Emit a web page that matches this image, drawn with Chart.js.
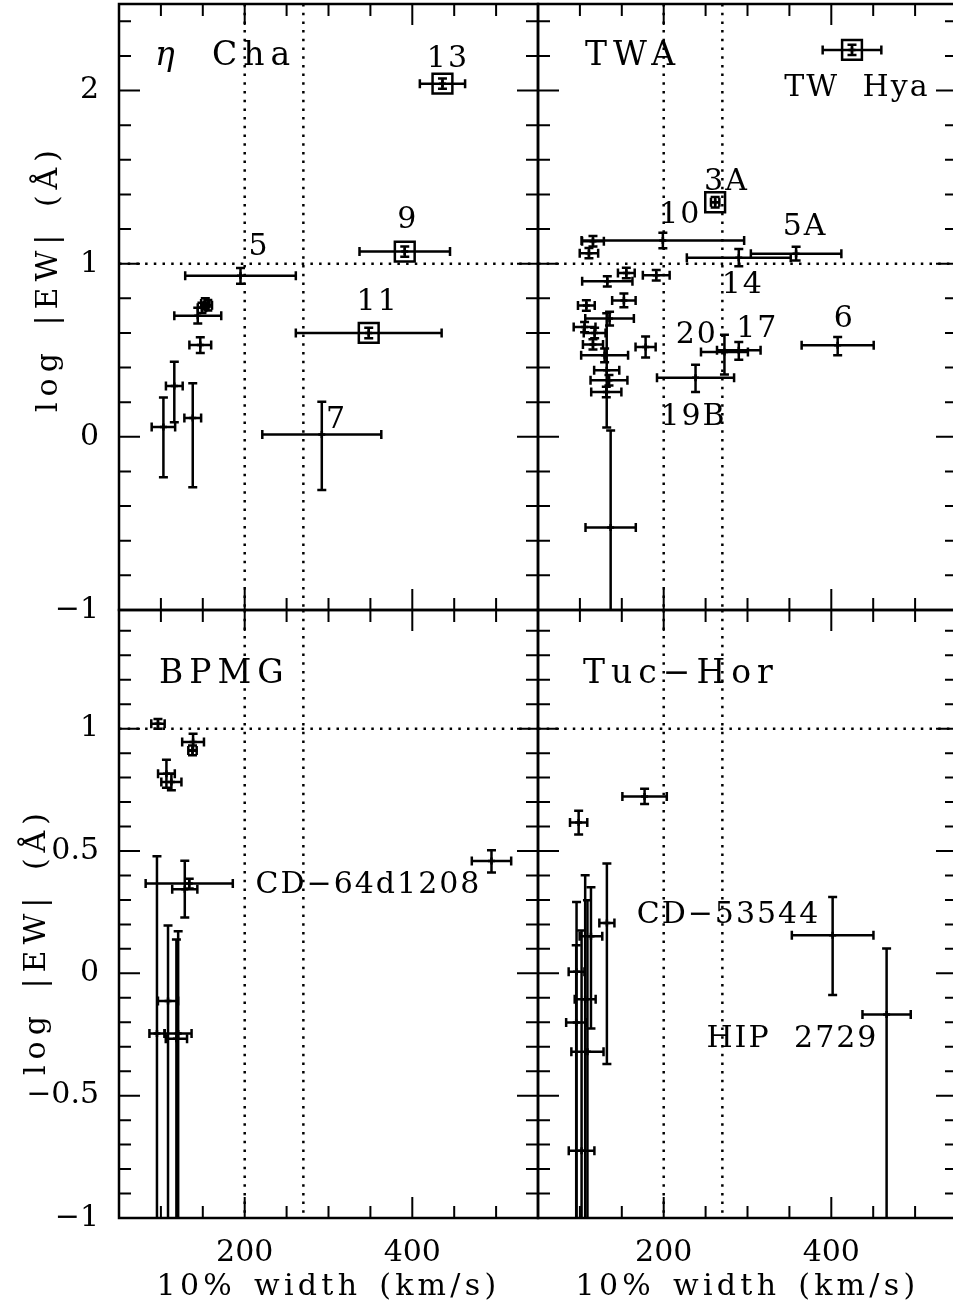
<!DOCTYPE html>
<html><head><meta charset="utf-8">
<script src="https://cdn.jsdelivr.net/npm/chart.js@4/dist/chart.umd.min.js"></script>
<style>
html,body{margin:0;padding:0;background:#fff;overflow:hidden;}
#wrap{position:relative;width:953px;height:1307px;overflow:hidden;background:#fff;}
canvas{position:absolute;left:0;top:0;}
</style></head><body>
<div id="wrap">
<canvas id="cA" width="962" height="1307"></canvas>
<canvas id="cB" width="962" height="1307"></canvas>
<canvas id="cC" width="962" height="1307"></canvas>
<canvas id="cD" width="962" height="1307"></canvas>
</div>
<script>
// ---------- axis definitions ----------
const X_MIN = 50, X_MAX = 550, X_STEP = 50, X_MAJOR = 200;
const TOP_Y_MIN = -1, TOP_Y_MAX = 2.5, TOP_Y_STEP = 0.2, TOP_Y_MAJOR = 1;
const BOT_Y_MIN = -1, BOT_Y_MAX = 1.485, BOT_Y_STEP = 0.1, BOT_Y_MAJOR = 0.5;
const REF_X = [200, 270];
const REF_Y = [1];
const X_TITLE = '10% width (km/s)';
const Y_TITLE = 'log |EW| (\u00C5)';

// ---------- eta Cha ----------
const chaX    = [436, 391, 195, 348, 292, 103, 116, 138, 147, 144, 149, 153, 156];
const chaY    = [2.04, 1.07, 0.93, 0.60, 0.013, 0.057, 0.294, 0.109, 0.53, 0.70, 0.745, 0.77, 0.76];
const chaXErr = [27, 54, 66, 87, 71, 14, 10, 10, 13, 28, 5, 5, 5];
const chaYLo  = [0.03, 0.03, 0.045, 0.03, 0.32, 0.29, 0.21, 0.40, 0.045, 0.045, 0.03, 0.03, 0.03];
const chaYHi  = [0.03, 0.03, 0.045, 0.03, 0.19, 0.17, 0.14, 0.20, 0.045, 0.045, 0.03, 0.03, 0.03];
const chaBox  = [1, 1, 0, 1, 0, 0, 0, 0, 0, 0, 0, 0, 0];
const chaLabelText = ['13', '9', '5', '11', '7'];
const chaLabelX    = [442.5, 394.6, 217, 358.7, 309.7];
const chaLabelY    = [2.134, 1.209, 1.048, 0.731, 0.05];

// ---------- TWA ----------
const twaX    = [424.7, 261.4, 199, 289.6, 358, 115.6, 110.8, 155.4, 191.1, 132.7, 152.5, 107.7, 135.4, 105.6, 117.6, 115.6, 129.5, 178.4, 132, 134.7, 131.5, 136.7, 272.5, 289.6, 407.6, 238];
const twaY    = [2.235, 1.355, 1.134, 1.035, 1.058, 1.13, 1.061, 0.946, 0.933, 0.898, 0.788, 0.759, 0.683, 0.634, 0.60, 0.534, 0.471, 0.519, 0.384, 0.327, 0.259, -0.523, 0.49, 0.50, 0.529, 0.342];
const twaXErr = [35, 5, 97, 62, 54, 13, 11, 10, 16, 30, 14, 10, 29, 13, 13, 12, 28, 12, 15, 22, 18, 30, 28, 26, 43, 46];
const twaYLo  = [0.03, 0.03, 0.045, 0.05, 0.04, 0.03, 0.03, 0.03, 0.03, 0.03, 0.04, 0.03, 0.04, 0.03, 0.03, 0.03, 0.04, 0.06, 0.33, 0.03, 0.03, 0.56, 0.13, 0.054, 0.058, 0.083];
const twaYHi  = [0.03, 0.03, 0.045, 0.05, 0.04, 0.03, 0.03, 0.03, 0.03, 0.03, 0.04, 0.03, 0.04, 0.03, 0.03, 0.03, 0.04, 0.06, 0.33, 0.03, 0.03, 0.56, 0.10, 0.048, 0.048, 0.075];
const twaBox  = [1, 1, 0, 0, 0, 0, 0, 0, 0, 0, 0, 0, 0, 0, 0, 0, 0, 0, 0, 0, 0, 0, 0, 0, 0, 0];
const twaLabelText = ['TW Hya', '3A', '10', '5A', '14', '20', '17', '6', '19B'];
const twaLabelX    = [430.5, 274.9, 219.8, 368.8, 294.3, 239.5, 311.6, 415.6, 235.6];
const twaLabelY    = [1.971, 1.423, 1.233, 1.163, 0.829, 0.540, 0.576, 0.634, 0.067];

// ---------- BPMG ----------
const bpX    = [96.5, 138.4, 137.7, 106.6, 112.5, 494.5, 133.8, 128.5, 95.3, 108.5, 120.6, 118.5];
const bpY    = [1.02, 0.945, 0.911, 0.816, 0.782, 0.459, 0.367, 0.344, -0.246, -0.113, -0.246, -0.267];
const bpXErr = [8, 13, 5, 10, 12, 23.5, 52, 15, 9, 12, 16, 12.7];
const bpYLo  = [0.02, 0.034, 0.02, 0.057, 0.034, 0.047, 0.02, 0.116, 1.5, 1.5, 1.5, 1.5];
const bpYHi  = [0.02, 0.034, 0.02, 0.057, 0.034, 0.044, 0.02, 0.116, 0.725, 0.309, 0.418, 0.405];
const bpBox  = [0, 0, 0, 0, 0, 0, 0, 0, 0, 0, 0, 0];
const bpLabelText = ['CD\u221264d1208'];
const bpLabelX    = [347.7];
const bpLabelY    = [0.327];

// ---------- Tuc-Hor ----------
const thX    = [177.2, 98.5, 401.6, 466, 96, 113.2, 106.3, 95.6, 109, 102, 132.2];
const thY    = [0.723, 0.616, 0.156, -0.168, 0.006, 0.152, -0.106, -0.201, -0.321, -0.725, 0.206];
const thXErr = [26.5, 10.3, 48.7, 28.8, 9.4, 13.5, 12.5, 12, 19.2, 15.3, 9];
const thYLo  = [0.031, 0.049, 0.245, 1.5, 1.5, 0.377, 1.5, 1.5, 1.5, 1.5, 0.577];
const thYHi  = [0.031, 0.049, 0.156, 0.27, 0.286, 0.2, 0.507, 0.316, 0.62, 0.9, 0.243];
const thBox  = [0, 0, 0, 0, 0, 0, 0, 0, 0, 0, 0];
const thLabelText = ['CD\u221253544', 'HIP 2729'];
const thLabelX    = [277.3, 353.6];
const thLabelY    = [0.205, -0.302];

// ---------- panel names ----------
const panelNames = ['Cha', 'TWA', 'BPMG', 'Tuc\u2212Hor'];

// ---------- rendering ----------
const FONT = "'DejaVu Serif', serif";
Chart.defaults.font.family = FONT;
Chart.defaults.font.size = 30;
Chart.defaults.color = '#000';
const CAP = 4.5;

function fmt(v) {
  const r = Math.round(v * 10) / 10;
  const s = String(Math.abs(r));
  return r < 0 ? '\u2212' + s : s;
}
function isMult(v, m) { const q = v / m; return Math.abs(q - Math.round(q)) < 1e-6; }

function drawText(ctx, t, x, y, size, align, italic, spacing, wordSp) {
  ctx.save();
  ctx.font = (italic ? 'italic ' : '') + size + 'px ' + FONT;
  ctx.fillStyle = '#000';
  ctx.textAlign = align;
  ctx.textBaseline = 'alphabetic';
  try { ctx.letterSpacing = spacing + 'px'; ctx.wordSpacing = (wordSp || 0) + 'px'; } catch (e) {}
  ctx.fillText(t, x, y);
  ctx.restore();
}

function makePanel(id, P) {
  const pts = P.x.map((xv, i) => ({x: xv, y: P.y[i]}));
  const boxPts = pts.filter((p, i) => P.box[i]);
  const deco = {
    id: 'deco',
    beforeDatasetsDraw(chart) {
      const ctx = chart.ctx, a = chart.chartArea, sx = chart.scales.x, sy = chart.scales.y;
      ctx.save();
      ctx.beginPath(); ctx.rect(a.left, a.top, a.right - a.left, a.bottom - a.top); ctx.clip();
      ctx.strokeStyle = '#000';
      ctx.lineWidth = 2.5;
      ctx.setLineDash([2.5, 6.2]);
      REF_X.forEach(v => {
        const px = sx.getPixelForValue(v);
        ctx.beginPath(); ctx.moveTo(px, a.top); ctx.lineTo(px, a.bottom); ctx.stroke();
      });
      REF_Y.forEach(v => {
        const py = sy.getPixelForValue(v);
        ctx.beginPath(); ctx.moveTo(a.left, py); ctx.lineTo(a.right, py); ctx.stroke();
      });
      ctx.setLineDash([]);
      ctx.lineWidth = 2.5;
      P.x.forEach((xv, i) => {
        const cx = sx.getPixelForValue(xv), cy = sy.getPixelForValue(P.y[i]);
        const x0 = sx.getPixelForValue(xv - P.xErr[i]), x1 = sx.getPixelForValue(xv + P.xErr[i]);
        const y0 = sy.getPixelForValue(P.y[i] - P.yLo[i]), y1 = sy.getPixelForValue(P.y[i] + P.yHi[i]);
        ctx.beginPath();
        ctx.moveTo(x0, cy); ctx.lineTo(x1, cy);
        ctx.moveTo(x0, cy - CAP); ctx.lineTo(x0, cy + CAP);
        ctx.moveTo(x1, cy - CAP); ctx.lineTo(x1, cy + CAP);
        ctx.moveTo(cx, y0); ctx.lineTo(cx, y1);
        ctx.moveTo(cx - CAP, y0); ctx.lineTo(cx + CAP, y0);
        ctx.moveTo(cx - CAP, y1); ctx.lineTo(cx + CAP, y1);
        ctx.stroke();
      });
      ctx.restore();
    },
    afterDraw(chart) {
      const ctx = chart.ctx, a = chart.chartArea, sx = chart.scales.x, sy = chart.scales.y;
      ctx.save();
      ctx.strokeStyle = '#000';
      ctx.lineWidth = 2.5;
      ctx.strokeRect(a.left, a.top, a.right - a.left, a.bottom - a.top);
      ctx.lineWidth = 2;
      ctx.beginPath();
      sx.ticks.forEach(t => {
        const v = t.value;
        if (v <= sx.min + 1e-6 || v >= sx.max - 1e-6) return;
        const len = isMult(v, X_MAJOR) ? 21 : 12;
        const px = sx.getPixelForValue(v);
        ctx.moveTo(px, a.bottom); ctx.lineTo(px, a.bottom - len);
        ctx.moveTo(px, a.top); ctx.lineTo(px, a.top + len);
      });
      sy.ticks.forEach(t => {
        const v = t.value;
        if (v <= sy.min + 1e-6 || v >= sy.max - 1e-6) return;
        const len = isMult(v, P.yMajor) ? 21 : 12;
        const py = sy.getPixelForValue(v);
        ctx.moveTo(a.left, py); ctx.lineTo(a.left + len, py);
        ctx.moveTo(a.right, py); ctx.lineTo(a.right - len, py);
      });
      ctx.stroke();
      ctx.restore();
      // data labels
      P.labelText.forEach((t, i) => {
        drawText(ctx, t, sx.getPixelForValue(P.labelX[i]), sy.getPixelForValue(P.labelY[i]), 30, 'center', false, 2, 12);
      });
      // panel title
      P.titles.forEach(tt => {
        drawText(ctx, tt.t, sx.getPixelForValue(tt.x), sy.getPixelForValue(tt.y), 33, 'left', !!tt.italic, 6, 0);
      });
      // x axis title (drawn in the space reserved by the x scale)
      if (P.showX) {
        drawText(ctx, X_TITLE, (a.left + a.right) / 2, sx.bottom - 12, 30, 'center', false, 4.3, 4);
      }
      // y axis title
      if (P.yTitle) {
        ctx.save();
        ctx.translate(P.yTitle.px, P.yTitle.py);
        ctx.rotate(-Math.PI / 2);
        drawText(ctx, Y_TITLE, 0, 0, 30, 'center', false, 6, 6);
        ctx.restore();
      }
    }
  };
  const zeroPad = s => { s.paddingTop = 0; s.paddingBottom = 0; s.paddingLeft = 0; s.paddingRight = 0; };
  const yAxis = {
    type: 'linear', min: P.yMin, max: P.yMax, display: P.showY,
    grid: {display: false, drawTicks: false}, border: {display: false},
    ticks: {stepSize: P.yStep, includeBounds: false, autoSkip: false, padding: 20, font: {size: 30},
      callback: v => (isMult(v, P.yMajor) ? fmt(v) : '')},
    afterFit: s => { s.width = P.showY ? 119 : 0; zeroPad(s); }
  };
  const xAxis = {
    type: 'linear', min: X_MIN, max: X_MAX, display: P.showX,
    grid: {display: false, drawTicks: false}, border: {display: false},
    ticks: {stepSize: X_STEP, includeBounds: false, autoSkip: false, maxRotation: 0, padding: 17, font: {size: 30},
      callback: v => (isMult(v, X_MAJOR) ? String(v) : '')},
    afterFit: s => { s.height = P.showX ? 89 : 0; zeroPad(s); }
  };
  return new Chart(document.getElementById(id), {
    type: 'scatter',
    data: {datasets: [
      {data: pts, pointStyle: 'cross', pointRadius: 3.5, pointBorderWidth: 2.5, pointBorderColor: '#000', pointBackgroundColor: '#000', showLine: false},
      {data: boxPts, pointStyle: 'rect', pointRadius: 14, pointBorderWidth: 2.5, pointBorderColor: '#000', pointBackgroundColor: 'rgba(0,0,0,0)', showLine: false}
    ]},
    options: {
      responsive: false, animation: false, events: [],
      layout: {padding: P.pad, autoPadding: false},
      plugins: {legend: {display: false}, tooltip: {enabled: false}},
      scales: {x: xAxis, y: yAxis}
    },
    plugins: [deco]
  });
}

makePanel('cA', {x: chaX, y: chaY, xErr: chaXErr, yLo: chaYLo, yHi: chaYHi, box: chaBox,
  labelText: chaLabelText, labelX: chaLabelX, labelY: chaLabelY,
  titles: [{t: '\u03B7', x: 93, y: 2.148, italic: true}, {t: panelNames[0], x: 161, y: 2.148}],
  yMin: TOP_Y_MIN, yMax: TOP_Y_MAX, yStep: TOP_Y_STEP, yMajor: TOP_Y_MAJOR,
  showX: false, showY: true, pad: {left: 0, top: 4, right: 424, bottom: 697},
  yTitle: {px: 57, py: 278}});
makePanel('cB', {x: twaX, y: twaY, xErr: twaXErr, yLo: twaYLo, yHi: twaYHi, box: twaBox,
  labelText: twaLabelText, labelX: twaLabelX, labelY: twaLabelY,
  titles: [{t: panelNames[1], x: 106.1, y: 2.148}],
  yMin: TOP_Y_MIN, yMax: TOP_Y_MAX, yStep: TOP_Y_STEP, yMajor: TOP_Y_MAJOR,
  showX: false, showY: false, pad: {left: 538, top: 4, right: 5, bottom: 697}});
makePanel('cC', {x: bpX, y: bpY, xErr: bpXErr, yLo: bpYLo, yHi: bpYHi, box: bpBox,
  labelText: bpLabelText, labelX: bpLabelX, labelY: bpLabelY,
  titles: [{t: panelNames[2], x: 97.7, y: 1.185}],
  yMin: BOT_Y_MIN, yMax: BOT_Y_MAX, yStep: BOT_Y_STEP, yMajor: BOT_Y_MAJOR,
  showX: true, showY: true, pad: {left: 0, top: 610, right: 424, bottom: 0},
  yTitle: {px: 45, py: 941}});
makePanel('cD', {x: thX, y: thY, xErr: thXErr, yLo: thYLo, yHi: thYHi, box: thBox,
  labelText: thLabelText, labelX: thLabelX, labelY: thLabelY,
  titles: [{t: panelNames[3], x: 103.7, y: 1.185}],
  yMin: BOT_Y_MIN, yMax: BOT_Y_MAX, yStep: BOT_Y_STEP, yMajor: BOT_Y_MAJOR,
  showX: true, showY: false, pad: {left: 538, top: 610, right: 5, bottom: 0}});
</script>
</body></html>
